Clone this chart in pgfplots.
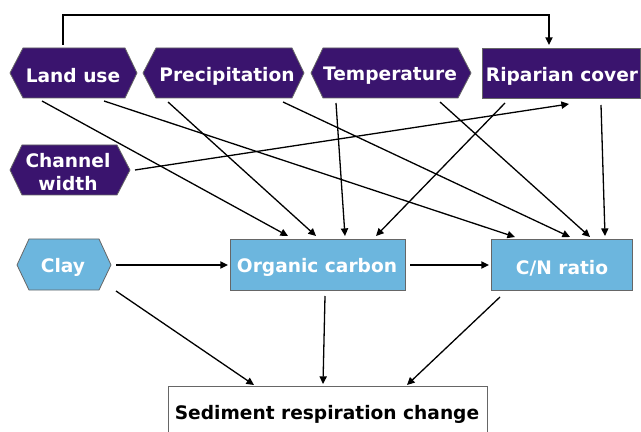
\documentclass[border=0pt]{standalone}
\usepackage{pgfplots}
\pgfplotsset{compat=1.18}
\usepackage{fontspec}
\setmainfont{DejaVu Sans}
\usetikzlibrary{arrows.meta}
\definecolor{purp}{RGB}{58,20,110}
\definecolor{lblue}{RGB}{108,182,222}
\begin{document}
\begin{tikzpicture}
\begin{axis}[
  scale only axis, width=320.5pt, height=216pt,
  xmin=0, xmax=641, ymin=0, ymax=432, y dir=reverse,
  hide axis, clip=false]
\tikzset{
  lbl/.style={font=\bfseries\fontsize{9.3pt}{11pt}\selectfont, text=white, align=center, inner sep=0pt, yshift=-1pt},
  arr/.style={line width=0.65pt, -{Triangle[length=3.8pt,width=3.6pt]}},
  shp/.style={draw=black!60, line width=0.4pt}
}
% hexagons
\filldraw[shp, fill=purp] (10,73)--(23,48)--(125,48)--(137,73)--(125,98)--(23,98)--cycle;
\node[lbl] at (73,74) {Land use};
\filldraw[shp, fill=purp] (143,73)--(156,48)--(292,48)--(304,73)--(292,98)--(156,98)--cycle;
\node[lbl] at (227,74) {Precipitation};
\filldraw[shp, fill=purp] (311,73)--(323,48)--(458,48)--(471,73)--(458,98)--(323,98)--cycle;
\node[lbl] at (390,74) {Temperature};
\filldraw[shp, fill=purp] (482,48) rectangle (640,98);
\node[lbl] at (562,74) {Riparian cover};
\filldraw[shp, fill=purp] (10,170)--(22,145)--(117,145)--(130,170)--(117,195)--(22,195)--cycle;
\node[lbl] at (68,170) {Channel\\[0.8pt]width};
\filldraw[shp, fill=lblue] (17,265)--(29,239)--(99,239)--(111,265)--(99,290)--(29,290)--cycle;
\node[lbl] at (63,265) {Clay};
\filldraw[shp, fill=lblue] (230,239) rectangle (405,290);
\node[lbl] at (317,265) {Organic carbon};
\filldraw[shp, fill=lblue] (491,239) rectangle (632,290);
\node[lbl] at (562,266) {C/N ratio};
\filldraw[shp, fill=white] (168,386) rectangle (487,445);
\node[lbl, text=black] at (327,412) {Sediment respiration change};
% arrows
\draw[arr] (63,45)--(63,15)--(549,15)--(549,45);
\draw[arr] (42,101)--(288,236);
\draw[arr] (104,101)--(515,237);
\draw[arr] (168,102)--(316,236);
\draw[arr] (283,102)--(570,237);
\draw[arr] (336,103)--(345,236);
\draw[arr] (440,102)--(590,237);
\draw[arr] (505,103)--(376,236);
\draw[arr] (601,105)--(605,236);
\draw[arr] (135,170)--(569,104);
\draw[arr] (116,265)--(228,265);
\draw[arr] (410,265)--(489,265);
\draw[arr] (116,291)--(254,385);
\draw[arr] (325,296)--(323,384);
\draw[arr] (500,297)--(407,385);
\end{axis}
\pgfresetboundingbox
\path (0,0) rectangle (320.5pt,216pt);
\end{tikzpicture}
\end{document}
